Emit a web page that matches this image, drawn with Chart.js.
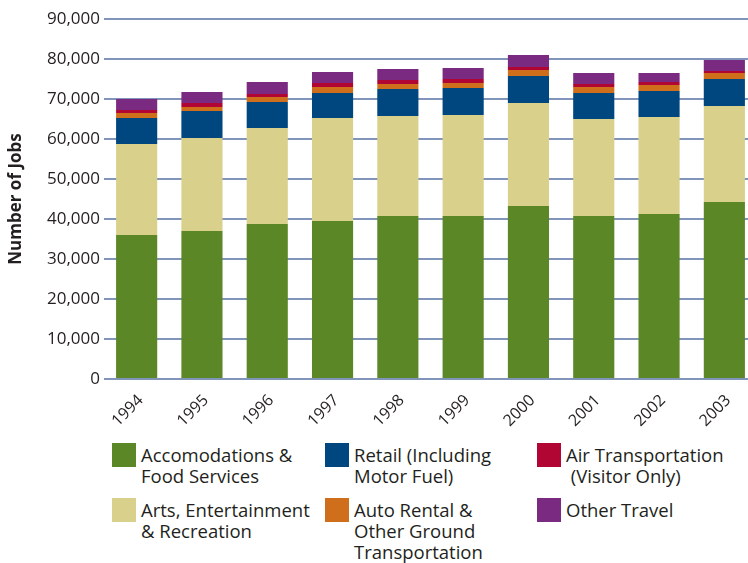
<!DOCTYPE html>
<html>
<head>
<meta charset="utf-8">
<script src="https://cdn.jsdelivr.net/npm/chart.js@4.4.0/dist/chart.umd.min.js"></script>
<style>
  html, body { margin: 0; padding: 0; background: #fff; overflow: hidden; }
  #wrap { position: relative; width: 748px; height: 563px; overflow: hidden; font-family: "Open Sans", sans-serif; color: #231f20; }
  #box { position: absolute; left: 0; top: 0; }
  .item { position: absolute; width: 200px; height: 80px; }
  .sw { position: absolute; left: 0; top: 0; width: 24px; height: 24px; }
  .lbl { position: absolute; left: 29px; top: 1px; font-size: 18.5px; line-height: 21px; white-space: pre; }
</style>
</head>
<body>
<div id="wrap">
  <canvas id="box" width="757" height="440"></canvas>
  <div id="legend"></div>
</div>
<script>
// data (number of jobs)
const years = ['1994', '1995', '1996', '1997', '1998', '1999', '2000', '2001', '2002', '2003'];
const accomFood = [36000, 37000, 38750, 39500, 40750, 40750, 43250, 40750, 41250, 44250];
const artsRec = [22750, 23250, 24000, 25750, 25000, 25250, 25750, 24250, 24250, 24000];
const retail = [6500, 6750, 6500, 6250, 6750, 6750, 6750, 6500, 6500, 6750];
const autoRental = [1250, 1000, 1250, 1500, 1250, 1250, 1500, 1500, 1500, 1500];
const airTransport = [750, 1000, 750, 1000, 1000, 1000, 750, 750, 750, 500];
const otherTravel = [2750, 2750, 3000, 2750, 2750, 2750, 3000, 2750, 2250, 2750];
const yTicks = [0, 10000, 20000, 30000, 40000, 50000, 60000, 70000, 80000, 90000];

const series = [
  { name: 'Accomodations &\nFood Services', data: accomFood, color: '#5c8727' },
  { name: 'Arts, Entertainment\n& Recreation', data: artsRec, color: '#d9d08b' },
  { name: 'Retail (Including\nMotor Fuel)', data: retail, color: '#00467f' },
  { name: 'Auto Rental &\nOther Ground\nTransportation', data: autoRental, color: '#cf6f1b' },
  { name: 'Air Transportation\n (Visitor Only)', data: airTransport, color: '#b10633' },
  { name: 'Other Travel', data: otherTravel, color: '#7b2a82' }
];

const textColor = '#231f20';
const gridColor = '#8194ba';

new Chart(document.getElementById('box').getContext('2d'), {
  type: 'bar',
  data: {
    labels: years,
    datasets: series.map(s => ({
      label: s.name,
      data: s.data,
      backgroundColor: s.color,
      borderWidth: 0,
      barPercentage: 0.63,
      categoryPercentage: 1
    }))
  },
  options: {
    responsive: false,
    animation: false,
    devicePixelRatio: 1,
    layout: { padding: { top: 19, left: 0, right: 0, bottom: 0 } },
    plugins: { legend: { display: false }, tooltip: { enabled: false } },
    scales: {
      x: {
        stacked: true,
        grid: { display: false },
        border: { display: false },
        ticks: {
          color: textColor,
          font: { family: 'Open Sans', size: 16 },
          minRotation: 45,
          maxRotation: 45,
          padding: 4,
          labelOffset: 4
        },
        afterFit: scale => { scale.height = 61; }
      },
      y: {
        stacked: true,
        min: 0,
        max: 90000,
        afterBuildTicks: scale => { scale.ticks = yTicks.map(v => ({ value: v })); },
        grid: { color: gridColor, lineWidth: 2, drawTicks: false },
        border: { display: false },
        title: {
          display: true,
          text: 'Number of Jobs',
          color: textColor,
          font: { family: 'Open Sans', size: 17, weight: 'bold' },
          padding: { top: 6, bottom: 0 }
        },
        ticks: {
          color: textColor,
          font: { family: 'Open Sans', size: 17 },
          padding: 4,
          callback: v => v.toLocaleString('en-US')
        },
        afterFit: scale => { scale.width = 104; }
      }
    }
  }
});

// legend laid out like the original: 3 columns, 2 rows
const legendOrder = [0, 2, 4, 1, 3, 5];
const colX = [112, 325, 537];
const rowY = [443, 498];
const legend = document.getElementById('legend');
legendOrder.forEach((idx, i) => {
  const s = series[idx];
  const item = document.createElement('div');
  item.className = 'item';
  item.style.left = colX[i % 3] + 'px';
  item.style.top = rowY[Math.floor(i / 3)] + 'px';
  item.innerHTML = '<div class="sw" style="background:' + s.color + '"></div>';
  const lbl = document.createElement('div');
  lbl.className = 'lbl';
  lbl.textContent = s.name;
  item.appendChild(lbl);
  legend.appendChild(item);
});
</script>
</body>
</html>
